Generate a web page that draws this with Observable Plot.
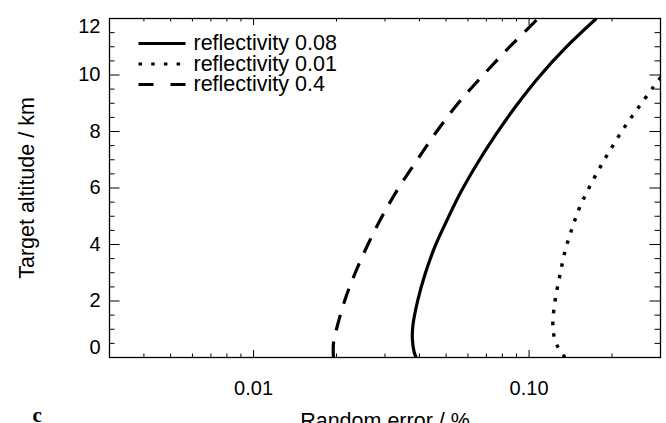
<!DOCTYPE html>
<html>
<head>
<meta charset="utf-8">
<script src="https://cdn.jsdelivr.net/npm/d3@7"></script>
<script src="https://cdn.jsdelivr.net/npm/@observablehq/plot@0.6"></script>
<style>
  html, body { margin: 0; padding: 0; background: #fff; overflow: hidden; }
  #chart svg { display: block; }
</style>
</head>
<body>
<div id="chart"></div>
<script>
// ---- data ----
const solidX  = [0.0389, 0.0383, 0.0377, 0.0379, 0.0394, 0.0420, 0.0456, 0.0503, 0.0563, 0.0647, 0.0756, 0.0898, 0.1088, 0.1358, 0.1755];
const solidY  = [0, 0.18, 0.67, 1.15, 2.0, 2.97, 3.94, 4.85, 5.82, 6.85, 7.88, 8.91, 9.94, 10.97, 12];

const dottedX = [0.135, 0.1265, 0.1227, 0.122, 0.1248, 0.1298, 0.135, 0.143, 0.152, 0.165, 0.181, 0.200, 0.223, 0.2496, 0.283, 0.305];
const dottedY = [0, 0.42, 0.85, 1.27, 2.12, 2.97, 3.76, 4.55, 5.27, 6.0, 6.73, 7.45, 8.18, 8.85, 9.58, 10.0];

const dashedX = [0.0195, 0.0195, 0.0200, 0.0214, 0.0234, 0.0260, 0.0293, 0.0336, 0.0393, 0.0462, 0.0553, 0.0682, 0.0851, 0.1079];
const dashedY = [0, 0.5, 1, 2, 3, 4, 5, 6, 7, 8, 9, 10, 11, 12];

const legendLabels = ["reflectivity 0.08", "reflectivity 0.01", "reflectivity 0.4"];

const xDomain = [0.003, 0.3];
const yDomain = [0, 12];
const xMajor = [0.01, 0.1];
const xMinor = [0.004, 0.005, 0.006, 0.007, 0.008, 0.009, 0.02, 0.03, 0.04, 0.05, 0.06, 0.07, 0.08, 0.09, 0.2];
const yMajor = [2, 4, 6, 8, 10];
const yMinor = [0.5, 1, 1.5, 2.5, 3, 3.5, 4.5, 5, 5.5, 6.5, 7, 7.5, 8.5, 9, 9.5, 10.5, 11, 11.5];

const xTitle = "Random error / %";
const yTitle = "Target altitude / km";
const panelLabel = "c";

// ---- layout ----
const W = 666, H = 440, mL = 109, mR = 6, mT = 18, mB = 83;
const fw = W - mL - mR, fh = H - mT - mB;
const font = "'Liberation Sans', Arial, Helvetica, sans-serif";

const toRows = (xs, ys) => xs.map((x, i) => ({x, y: ys[i]}));
const solid = toRows(solidX, solidY);
const dotted = toRows(dottedX, dottedY);
const dashed = toRows(dashedX, dashedY);

const styles = [
  {dash: null, legendDash: null},
  {dash: "3.5 8.3", legendDash: "3.5 9.2"},
  {dash: "16 11.5", legendDash: "15 17"}
];

// legend positions (pixel layout) converted into data space
const xs = d3.scaleLog().domain(xDomain).range([mL, W - mR]);
const ys = d3.scaleLinear().domain(yDomain).range([H - mB, mT]);
const legRowsPx = [43, 63.5, 84];
const legend = legendLabels.map((label, i) => ({
  label,
  x1: xs.invert(138), x2: xs.invert(185), xt: xs.invert(193),
  y: ys.invert(legRowsPx[i])
}));

const lineOpts = {x: "x", y: "y", stroke: "#000", strokeWidth: 3.2, curve: "catmull-rom", clip: true, strokeLinecap: "butt"};

const chart = Plot.plot({
  width: W, height: H,
  marginLeft: mL, marginRight: mR, marginTop: mT, marginBottom: mB,
  style: {fontFamily: font, background: "#fff", color: "#000", overflow: "visible"},
  x: {type: "log", domain: xDomain},
  y: {domain: yDomain},
  marks: [
    // ticks (inward, all four sides)
    Plot.ruleX(xMajor, {insetTop: fh - 7, stroke: "#000", strokeWidth: 1}),
    Plot.ruleX(xMajor, {insetBottom: fh - 7, stroke: "#000", strokeWidth: 1}),
    Plot.ruleX(xMinor, {insetTop: fh - 3.5, stroke: "#000", strokeWidth: 1}),
    Plot.ruleX(xMinor, {insetBottom: fh - 3.5, stroke: "#000", strokeWidth: 1}),
    Plot.ruleY(yMajor, {insetRight: fw - 10.5, stroke: "#000", strokeWidth: 1}),
    Plot.ruleY(yMajor, {insetLeft: fw - 10.5, stroke: "#000", strokeWidth: 1}),
    Plot.ruleY(yMinor, {insetRight: fw - 5.5, stroke: "#000", strokeWidth: 1}),
    Plot.ruleY(yMinor, {insetLeft: fw - 5.5, stroke: "#000", strokeWidth: 1}),
    Plot.frame({stroke: "#000", strokeWidth: 1.3}),
    // axis labels
    Plot.axisX(xMajor, {tickSize: 0, tickPadding: 23, tickFormat: d => d.toFixed(2), fontSize: 20, label: null}),
    Plot.axisY(yMajor, {tickSize: 0, tickPadding: 9, fontSize: 20, label: null}),
    Plot.axisY([12], {tickSize: 0, tickPadding: 9, fontSize: 20, label: null, dy: 8.5}),
    Plot.axisY([0], {tickSize: 0, tickPadding: 9, fontSize: 20, label: null, dy: -9.5}),
    Plot.text([xTitle], {frameAnchor: "bottom", lineAnchor: "middle", dy: 64, fontSize: 21.5, fill: "#000"}),
    Plot.text([yTitle], {frameAnchor: "left", textAnchor: "middle", lineAnchor: "middle", dx: -82, rotate: -90, fontSize: 21.5, fill: "#000"}),
    Plot.text([panelLabel], {frameAnchor: "bottom-left", lineAnchor: "middle", dx: -77, dy: 58, textAnchor: "start", fontSize: 21, fontWeight: "bold", fontFamily: "'Liberation Serif', 'DejaVu Serif', serif", fill: "#000"}),
    // curves
    Plot.line(solid, {...lineOpts}),
    Plot.line(dotted, {...lineOpts, strokeDasharray: styles[1].dash, strokeWidth: 3.4}),
    Plot.line(dashed, {...lineOpts, strokeDasharray: styles[2].dash}),
    // legend
    ...legend.map((d, i) => Plot.link([d], {x1: "x1", x2: "x2", y1: "y", y2: "y", stroke: "#000", strokeWidth: 3.2, strokeDasharray: styles[i].legendDash})),
    Plot.text(legend, {x: "xt", y: "y", text: "label", textAnchor: "start", fontSize: 21.5, fill: "#000"})
  ]
});
document.getElementById("chart").appendChild(chart);
</script>
</body>
</html>
